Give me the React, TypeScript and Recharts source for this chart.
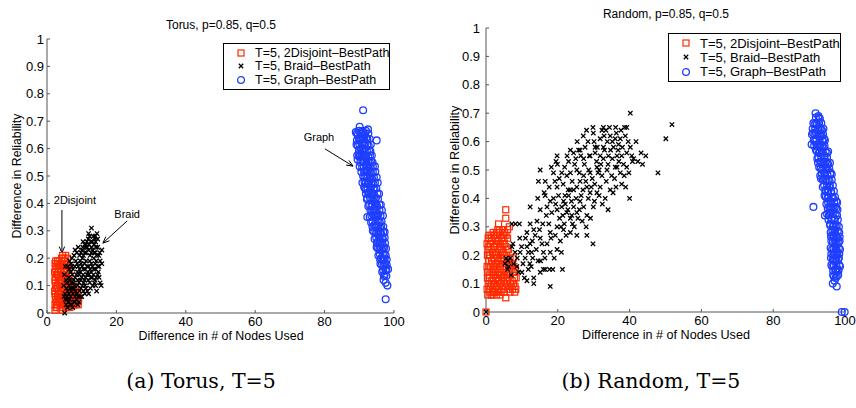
import { ScatterChart, Scatter, XAxis, YAxis, Legend, ReferenceLine } from 'recharts';

type Pt = [number, number];

const xTicks = [0, 20, 40, 60, 80, 100];
const yTicks = [0, 0.1, 0.2, 0.3, 0.4, 0.5, 0.6, 0.7, 0.8, 0.9, 1];
const seriesNames = ['T=5, 2Disjoint\u2013BestPath', 'T=5, Braid\u2013BestPath', 'T=5, Graph\u2013BestPath'];

// ---- Torus panel ----
const torusDisjoint: Pt[] = [
  [2.3, 0.01], [2.4, 0.05], [2.2, 0.08], [2.5, 0.1], [2.3, 0.12], [2.4, 0.13], [2.2, 0.15], [2.6, 0.17],
  [3.0, 0.03], [3.1, 0.06], [2.9, 0.09], [3.2, 0.11], [3.0, 0.14], [3.3, 0.16], [3.1, 0.18], [2.8, 0.02],
  [3.6, 0.04], [3.5, 0.07], [3.7, 0.1], [3.4, 0.12], [3.8, 0.15], [3.6, 0.17], [3.5, 0.19],
  [4.1, 0.03], [4.0, 0.05], [4.2, 0.08], [3.9, 0.11], [4.3, 0.13], [4.1, 0.16], [4.0, 0.18], [4.2, 0.2],
  [4.6, 0.02], [4.5, 0.06], [4.7, 0.09], [4.4, 0.12], [4.8, 0.14], [4.6, 0.17], [4.5, 0.21],
  [5.1, 0.03], [5.0, 0.05], [5.2, 0.07], [4.9, 0.1], [5.3, 0.13], [5.1, 0.15], [5.0, 0.19], [5.4, 0.21],
  [5.6, 0.04], [5.5, 0.06], [5.8, 0.08], [5.7, 0.11], [5.6, 0.14], [5.9, 0.2],
  [6.1, 0.03], [6.2, 0.05], [6.0, 0.07], [6.3, 0.09], [6.1, 0.12], [6.0, 0.17],
  [6.6, 0.02], [6.7, 0.04], [6.5, 0.06], [6.8, 0.08], [6.6, 0.1],
  [7.1, 0.03], [7.2, 0.05], [7.0, 0.07], [7.3, 0.09],
  [7.6, 0.04], [7.8, 0.06], [7.5, 0.08],
  [8.1, 0.03], [8.0, 0.05], [8.3, 0.07], [8.2, 0.09],
  [8.6, 0.04], [8.7, 0.06], [9.0, 0.03], [9.1, 0.05],
  [2.7, 0.04], [3.3, 0.08], [4.4, 0.01], [5.8, 0.02], [2.5, 0.19], [3.8, 0.02],
  [2.6, 0.02], [2.3, 0.03], [2.5, 0.06], [2.3, 0.07], [2.6, 0.09], [2.4, 0.11], [2.7, 0.14], [2.5, 0.16], [2.3, 0.18],
  [3.2, 0.04], [3.4, 0.05], [3.2, 0.07], [3.0, 0.1], [3.4, 0.13], [3.2, 0.15], [3.4, 0.17], [3.0, 0.19],
  [3.8, 0.06], [4.0, 0.09], [3.7, 0.12], [4.1, 0.14], [3.8, 0.18], [4.3, 0.19],
  [4.4, 0.04], [4.7, 0.07], [4.5, 0.1], [4.6, 0.13], [4.8, 0.16], [4.4, 0.18], [4.9, 0.2],
  [5.3, 0.04], [5.2, 0.09], [5.4, 0.11], [5.4, 0.17], [5.7, 0.16], [5.6, 0.18], [5.3, 0.02],
  [6.4, 0.04], [6.3, 0.07], [6.9, 0.05], [7.4, 0.06], [7.7, 0.07], [8.4, 0.05], [8.8, 0.08], [7.0, 0.1],
  [7.8, 0.03], [6.3, 0.11], [6.4, 0.14],
];

const torusBraid: Pt[] = [
  [5.1, 0.0], [5.5, 0.03], [6.2, 0.04], [7.0, 0.03], [7.8, 0.04], [6.5, 0.05], [8.5, 0.05], [9.2, 0.04], [5.8, 0.05],
  [5.2, 0.07], [6.0, 0.08], [6.8, 0.06], [7.5, 0.07], [8.2, 0.08], [9.0, 0.06], [9.8, 0.09], [10.5, 0.08],
  [6.4, 0.1], [7.2, 0.09], [8.8, 0.1], [11.2, 0.09], [12.0, 0.07], [14.3, 0.08], [15.6, 0.1], [5.6, 0.09], [10.0, 0.06],
  [5.5, 0.12], [6.3, 0.13], [7.0, 0.11], [7.7, 0.12], [8.5, 0.14], [9.2, 0.11], [10.0, 0.13], [10.8, 0.12],
  [11.5, 0.14], [12.3, 0.11], [13.0, 0.13], [13.8, 0.12], [14.6, 0.14], [15.3, 0.11], [6.8, 0.15], [8.0, 0.1],
  [9.6, 0.15], [12.7, 0.15], [11.0, 0.1], [14.0, 0.1],
  [6.0, 0.17], [7.0, 0.18], [7.5, 0.16], [8.3, 0.19], [9.0, 0.17], [9.8, 0.18], [10.5, 0.16], [11.3, 0.19],
  [12.0, 0.17], [12.8, 0.18], [13.5, 0.16], [14.2, 0.19], [15.0, 0.17], [15.8, 0.18], [8.8, 0.15], [11.8, 0.15],
  [14.8, 0.15], [10.2, 0.2], [6.5, 0.19],
  [7.8, 0.21], [8.6, 0.22], [9.4, 0.21], [10.1, 0.23], [10.9, 0.22], [11.6, 0.24], [12.4, 0.21], [13.1, 0.23],
  [13.9, 0.22], [14.6, 0.24], [15.8, 0.23], [9.0, 0.24], [12.0, 0.25], [7.2, 0.2], [13.5, 0.2], [14.9, 0.21],
  [10.4, 0.26], [11.2, 0.25], [11.9, 0.27], [12.6, 0.26], [13.3, 0.28], [14.0, 0.26], [14.4, 0.29], [12.8, 0.31],
  [13.6, 0.25], [10.9, 0.25],
  [5.0, 0.14], [4.8, 0.1], [5.3, 0.17], [4.9, 0.06],
  [5.9, 0.02], [6.7, 0.03], [7.4, 0.02], [8.0, 0.04], [8.9, 0.03], [5.3, 0.05],
  [5.7, 0.06], [6.3, 0.07], [7.0, 0.08], [7.8, 0.09], [8.5, 0.07], [9.4, 0.08], [10.2, 0.1], [10.9, 0.07],
  [11.6, 0.08], [12.5, 0.09], [13.2, 0.1], [6.6, 0.09], [8.1, 0.06], [9.6, 0.06],
  [5.8, 0.11], [6.6, 0.12], [7.3, 0.14], [8.1, 0.13], [8.9, 0.12], [9.7, 0.12], [10.4, 0.14], [11.1, 0.13],
  [11.9, 0.12], [12.6, 0.13], [13.4, 0.14], [14.2, 0.13], [15.0, 0.13], [7.6, 0.11], [9.3, 0.14], [10.6, 0.11],
  [12.1, 0.14], [13.7, 0.11],
  [6.4, 0.16], [7.2, 0.17], [8.0, 0.17], [8.7, 0.18], [9.4, 0.16], [10.1, 0.17], [10.8, 0.18], [11.6, 0.17],
  [12.3, 0.19], [13.1, 0.17], [13.9, 0.18], [14.6, 0.17], [9.6, 0.19], [11.0, 0.16], [12.5, 0.16], [14.0, 0.16],
  [15.3, 0.19],
  [8.1, 0.23], [9.8, 0.22], [10.5, 0.21], [11.3, 0.22], [12.0, 0.23], [12.8, 0.22], [13.6, 0.22], [14.3, 0.21],
  [10.3, 0.24], [11.0, 0.24], [12.9, 0.24], [14.1, 0.24], [15.2, 0.22],
  [11.5, 0.26], [12.3, 0.28], [13.0, 0.26], [13.8, 0.27], [14.6, 0.27], [12.0, 0.29], [13.9, 0.28],
];

const torusGraph: Pt[] = [
  [91.1, 0.74], [90.1, 0.68], [92.5, 0.67], [89.0, 0.66], [89.6, 0.65], [90.5, 0.66], [91.4, 0.65], [92.0, 0.64],
  [89.3, 0.63], [90.2, 0.63], [91.0, 0.62], [91.8, 0.62], [95.0, 0.63], [92.7, 0.61], [89.5, 0.61], [90.4, 0.6],
  [91.3, 0.6], [92.2, 0.59], [93.2, 0.59], [89.8, 0.58], [90.7, 0.58], [91.6, 0.57], [92.6, 0.57], [89.5, 0.56],
  [90.3, 0.55], [91.2, 0.55], [92.0, 0.54], [93.0, 0.55], [93.8, 0.55], [90.8, 0.53], [91.7, 0.52], [92.5, 0.52],
  [93.4, 0.51], [91.1, 0.5], [92.0, 0.5], [92.9, 0.49], [93.7, 0.49], [91.5, 0.48], [92.4, 0.47], [93.2, 0.46],
  [94.1, 0.47], [91.9, 0.45], [92.8, 0.44], [93.6, 0.44], [94.4, 0.45], [92.3, 0.42], [93.1, 0.42], [94.0, 0.41],
  [94.8, 0.42], [92.6, 0.39], [93.5, 0.39], [94.4, 0.38], [95.1, 0.39], [92.3, 0.35], [93.0, 0.35], [93.9, 0.36],
  [94.8, 0.35], [95.5, 0.36], [93.4, 0.33], [94.3, 0.32], [95.1, 0.32], [95.9, 0.33], [93.9, 0.3], [94.8, 0.29],
  [95.6, 0.3], [96.3, 0.29], [94.4, 0.27], [95.3, 0.26], [96.1, 0.26], [96.8, 0.27], [95.0, 0.24], [95.8, 0.23],
  [96.6, 0.23], [97.2, 0.24], [95.5, 0.21], [96.3, 0.2], [97.0, 0.2], [97.6, 0.21], [96.1, 0.18], [96.9, 0.17],
  [97.5, 0.18], [96.6, 0.15], [97.3, 0.14], [97.8, 0.16], [98.3, 0.16], [97.0, 0.12], [97.6, 0.11], [98.1, 0.1],
  [97.6, 0.05],
  [90.0, 0.64], [90.9, 0.64], [91.6, 0.59], [90.0, 0.57], [92.1, 0.56], [91.4, 0.46], [93.3, 0.53], [92.6, 0.48],
  [93.8, 0.43], [94.6, 0.4], [93.7, 0.37], [95.3, 0.34], [96.0, 0.31], [96.6, 0.25], [95.9, 0.27],
  [89.9, 0.665], [91.0, 0.665], [91.9, 0.665], [89.3, 0.655], [90.8, 0.655], [91.7, 0.655], [92.6, 0.655],
  [89.9, 0.635], [90.6, 0.635], [91.4, 0.635], [92.3, 0.635], [93.0, 0.635],
  [89.2, 0.615], [90.0, 0.615], [90.8, 0.615], [91.5, 0.615], [92.3, 0.615], [93.3, 0.615],
  [89.9, 0.595], [90.9, 0.595], [92.8, 0.595],
  [89.4, 0.575], [90.2, 0.575], [91.1, 0.575], [92.0, 0.575], [93.1, 0.575], [93.6, 0.575],
  [90.9, 0.555], [91.7, 0.555], [92.5, 0.555], [93.4, 0.555],
  [90.1, 0.535], [91.3, 0.535], [92.2, 0.535], [93.0, 0.535], [93.9, 0.535], [94.5, 0.535],
  [90.6, 0.515], [91.4, 0.515], [92.1, 0.515], [93.0, 0.515], [93.9, 0.515], [94.6, 0.515],
  [91.5, 0.495], [92.4, 0.495], [93.3, 0.495], [94.2, 0.495], [95.0, 0.495],
  [90.9, 0.475], [91.9, 0.475], [92.8, 0.475], [93.6, 0.475], [94.5, 0.475], [95.3, 0.475],
  [91.6, 0.455], [92.4, 0.455], [93.3, 0.455], [94.1, 0.455], [94.9, 0.455],
  [91.9, 0.435], [92.6, 0.435], [93.4, 0.435], [94.2, 0.435], [95.2, 0.435], [95.7, 0.435],
  [92.2, 0.415], [93.5, 0.415], [94.4, 0.415], [95.4, 0.415],
  [92.9, 0.395], [93.8, 0.395], [94.8, 0.395], [95.8, 0.395], [96.2, 0.395],
  [93.2, 0.375], [94.1, 0.375], [95.0, 0.375], [95.8, 0.375], [96.5, 0.375],
  [93.5, 0.355], [94.4, 0.355], [95.2, 0.355], [96.1, 0.355], [96.8, 0.355],
  [93.8, 0.335], [94.7, 0.335], [95.6, 0.335], [96.4, 0.335],
  [93.8, 0.315], [94.7, 0.315], [95.5, 0.315], [96.3, 0.315], [96.9, 0.315],
  [94.3, 0.295], [95.2, 0.295], [96.0, 0.295], [96.9, 0.295], [97.3, 0.295],
  [94.9, 0.275], [95.7, 0.275], [96.5, 0.275], [97.3, 0.275],
  [95.1, 0.255], [95.9, 0.255], [96.6, 0.255], [97.4, 0.255],
  [95.4, 0.235], [96.2, 0.235], [97.0, 0.235], [97.7, 0.235],
  [95.9, 0.215], [96.8, 0.215], [97.3, 0.215],
  [96.0, 0.195], [96.7, 0.195], [97.3, 0.195], [97.9, 0.195],
  [96.4, 0.175], [97.2, 0.175], [97.9, 0.175],
  [96.9, 0.155], [97.6, 0.155], [97.1, 0.135], [97.8, 0.135],
];

// ---- Random panel ----
const randomDisjoint: Pt[] = [
  [0, 0],
  [0.5, 0.06], [0.6, 0.1], [0.4, 0.14], [0.7, 0.18], [0.5, 0.22], [0.6, 0.26], [0.8, 0.27],
  [1.1, 0.07], [1.2, 0.09], [1.0, 0.12], [1.3, 0.16], [1.1, 0.2], [1.2, 0.24], [1.4, 0.27],
  [1.7, 0.06], [1.8, 0.08], [1.6, 0.11], [1.9, 0.14], [1.7, 0.17], [1.8, 0.21], [1.6, 0.25], [2.0, 0.28],
  [2.3, 0.07], [2.4, 0.1], [2.2, 0.13], [2.5, 0.15], [2.3, 0.19], [2.4, 0.23], [2.6, 0.26],
  [2.9, 0.06], [3.0, 0.09], [2.8, 0.12], [3.1, 0.17], [2.9, 0.2], [3.0, 0.24], [3.2, 0.27], [3.5, 0.31], [3.3, 0.29],
  [3.6, 0.08], [3.5, 0.11], [3.7, 0.14], [3.4, 0.18], [3.8, 0.22], [3.6, 0.25], [3.9, 0.28],
  [4.2, 0.07], [4.1, 0.1], [4.3, 0.13], [4.0, 0.16], [4.4, 0.19], [4.2, 0.23], [4.5, 0.26], [4.6, 0.29],
  [4.8, 0.08], [4.9, 0.11], [4.7, 0.15], [5.0, 0.18], [4.8, 0.21], [5.1, 0.24], [5.2, 0.28],
  [5.5, 0.05], [5.4, 0.09], [5.6, 0.12], [5.3, 0.16], [5.7, 0.2], [5.5, 0.23], [5.5, 0.33], [5.5, 0.36],
  [6.1, 0.08], [6.0, 0.11], [6.2, 0.14], [5.9, 0.18], [6.3, 0.22], [6.5, 0.3], [6.0, 0.26],
  [6.7, 0.07], [6.8, 0.1], [6.6, 0.13], [6.9, 0.16], [6.7, 0.19],
  [7.4, 0.08], [7.3, 0.11], [7.5, 0.14], [7.2, 0.17], [7.6, 0.19],
  [8.0, 0.07], [8.1, 0.09], [7.9, 0.12], [8.2, 0.15],
  [0.3, 0.08], [0.4, 0.12], [0.3, 0.16], [0.4, 0.2], [0.3, 0.24], [0.8, 0.08], [0.9, 0.13], [0.8, 0.16],
  [0.9, 0.2], [0.8, 0.23], [1.4, 0.06], [1.5, 0.1], [1.4, 0.14], [1.5, 0.18], [1.4, 0.22], [1.5, 0.26],
  [2.0, 0.07], [2.1, 0.1], [2.0, 0.12], [2.1, 0.16], [2.0, 0.19], [2.1, 0.23], [2.1, 0.27],
  [2.6, 0.08], [2.7, 0.11], [2.6, 0.14], [2.7, 0.17], [2.6, 0.21], [2.7, 0.25],
  [3.3, 0.07], [3.3, 0.1], [3.2, 0.13], [3.3, 0.15], [3.2, 0.19], [3.3, 0.22], [3.4, 0.25],
  [3.9, 0.06], [3.9, 0.1], [3.9, 0.13], [3.9, 0.17], [4.0, 0.2], [4.0, 0.24], [4.1, 0.27],
  [4.5, 0.09], [4.5, 0.12], [4.6, 0.17], [4.5, 0.21], [4.7, 0.24],
  [5.1, 0.07], [5.1, 0.13], [5.2, 0.2], [5.0, 0.26], [5.8, 0.1], [5.8, 0.14], [5.9, 0.22], [6.4, 0.09],
  [6.4, 0.17], [7.0, 0.09], [7.0, 0.15], [7.7, 0.1], [7.8, 0.16], [8.3, 0.08], [8.4, 0.12], [4.8, 0.27],
  [5.6, 0.27], [3.7, 0.29], [2.9, 0.28], [6.0, 0.29],
];

const randomBraid: Pt[] = [
  [0, 0],
  [40.2, 0.7], [51.8, 0.66], [50.1, 0.61], [47.9, 0.49], [40.0, 0.4], [34.0, 0.36], [29.8, 0.24], [17.9, 0.09],
  [21.3, 0.15], [13.3, 0.1], [11.4, 0.11], [44.5, 0.55], [43.2, 0.56], [41.8, 0.6], [40.6, 0.55], [40.8, 0.53],
  [39.2, 0.65], [38.6, 0.65], [37.4, 0.61], [32.7, 0.65], [34.4, 0.65], [29.8, 0.65], [27.1, 0.62], [25.8, 0.57],
  [23.5, 0.57], [19.8, 0.55], [19.5, 0.53], [15.1, 0.5], [14.6, 0.46], [16.5, 0.46], [14.4, 0.4], [12.3, 0.37],
  [9.3, 0.31], [8.2, 0.31], [9.4, 0.26], [7.2, 0.23], [11.4, 0.23], [12.7, 0.21], [8.6, 0.16], [10.7, 0.12],
  [13.3, 0.12], [15.1, 0.14], [16.5, 0.15], [17.7, 0.15], [18.6, 0.15], [16.4, 0.19], [15.2, 0.18], [12.6, 0.16],
  [12.2, 0.17], [10.9, 0.19], [18.8, 0.4], [16.5, 0.41], [17.9, 0.39], [19.8, 0.36], [21.1, 0.37], [21.4, 0.34],
  [22.5, 0.35], [23.5, 0.33], [21.6, 0.29], [23.5, 0.28], [25.3, 0.27], [28.1, 0.27], [20.7, 0.25], [19.8, 0.22],
  [17.9, 0.21], [16.0, 0.21], [17.0, 0.24], [15.1, 0.26], [13.3, 0.29], [12.3, 0.31], [14.2, 0.32], [17.5, 0.31],
  [19.8, 0.3], [17.9, 0.28], [24.4, 0.43], [26.2, 0.39], [27.2, 0.37], [28.1, 0.34], [25.3, 0.35], [24.4, 0.37],
  [23.0, 0.41], [21.6, 0.39], [19.8, 0.44], [18.8, 0.49], [21.1, 0.49], [22.5, 0.48], [23.5, 0.49], [25.3, 0.5],
  [26.2, 0.46], [28.1, 0.44], [29.0, 0.42], [29.9, 0.37], [30.9, 0.42], [31.8, 0.44], [33.2, 0.4], [32.3, 0.48],
  [33.7, 0.5], [34.6, 0.43], [36.0, 0.51], [37.4, 0.49], [37.8, 0.45], [27.2, 0.54], [29.0, 0.55], [30.4, 0.56],
  [31.8, 0.55], [32.7, 0.54], [34.1, 0.55], [35.5, 0.58], [36.5, 0.55], [37.8, 0.55], [39.2, 0.56], [36.9, 0.59],
  [36.0, 0.61], [34.6, 0.62], [31.8, 0.61], [30.4, 0.58], [27.6, 0.58], [26.2, 0.57], [24.4, 0.56], [30.9, 0.51],
  [29.0, 0.49], [27.2, 0.48], [25.3, 0.44], [23.5, 0.43], [35.0, 0.48], [36.5, 0.51], [39.2, 0.51], [40.2, 0.58],
  [41.1, 0.54], [38.3, 0.52], [32.3, 0.64], [32.7, 0.58], [29.9, 0.63], [17.0, 0.37], [15.1, 0.36], [11.4, 0.28],
  [9.5, 0.21], [7.7, 0.17], [9.1, 0.14], [16.0, 0.15], [12.3, 0.24], [6.8, 0.19], [6.3, 0.16], [6.1, 0.18],
  [7.2, 0.31], [5.6, 0.19], [5.3, 0.17], [7.5, 0.24], [8.1, 0.21], [6.0, 0.15], [7.0, 0.13],
  [20.5, 0.33], [21.8, 0.31], [22.8, 0.36], [23.9, 0.34], [22.1, 0.38], [20.2, 0.41], [19.4, 0.38], [18.3, 0.35],
  [16.8, 0.34], [15.8, 0.31], [14.9, 0.29], [13.7, 0.27], [12.9, 0.25], [11.8, 0.21], [10.3, 0.17], [9.9, 0.23],
  [11.0, 0.26], [14.0, 0.22], [15.6, 0.24], [18.1, 0.26], [19.3, 0.27], [20.9, 0.3], [22.3, 0.27], [24.1, 0.31],
  [25.6, 0.33], [26.8, 0.32], [27.9, 0.3], [26.5, 0.41], [25.1, 0.4], [23.8, 0.39], [22.9, 0.43], [21.5, 0.45],
  [20.4, 0.47], [19.2, 0.46], [17.6, 0.44], [16.2, 0.42], [18.2, 0.51], [19.9, 0.52], [21.9, 0.51], [23.0, 0.53],
  [24.7, 0.52], [26.0, 0.49], [27.8, 0.46], [28.6, 0.5], [29.6, 0.47], [30.3, 0.45], [31.2, 0.49], [32.0, 0.52],
  [33.0, 0.57], [34.0, 0.52], [35.2, 0.54], [33.5, 0.46], [35.8, 0.47], [36.2, 0.44], [38.5, 0.48], [37.0, 0.53],
  [38.0, 0.58], [39.6, 0.6], [38.8, 0.62], [36.3, 0.63], [35.2, 0.6], [33.8, 0.6], [32.9, 0.62], [31.0, 0.58],
  [30.1, 0.6], [28.4, 0.6], [28.8, 0.55], [27.4, 0.52], [26.4, 0.55], [25.0, 0.54], [24.0, 0.46], [22.0, 0.41],
  [30.8, 0.53], [34.7, 0.57], [36.8, 0.57], [31.5, 0.5], [29.3, 0.44], [27.0, 0.43], [28.5, 0.4], [30.2, 0.39],
  [31.5, 0.41], [26.0, 0.36], [24.6, 0.3], [21.0, 0.21], [19.0, 0.19], [14.5, 0.18], [13.0, 0.19], [11.8, 0.15],
  [10.0, 0.14], [8.7, 0.19], [36.1, 0.65], [37.6, 0.64], [33.4, 0.64], [28.0, 0.64], [25.4, 0.6], [22.6, 0.55],
  [42.3, 0.53], [43.6, 0.52], [39.8, 0.49], [38.9, 0.44], [35.4, 0.42], [32.4, 0.38], [29.1, 0.33],
];

const randomGraph: Pt[] = [
  [91.8, 0.7], [92.6, 0.69], [93.0, 0.68], [91.5, 0.66], [92.2, 0.66], [93.0, 0.65], [93.6, 0.64], [91.1, 0.63],
  [91.9, 0.63], [92.7, 0.62], [93.5, 0.62], [94.2, 0.61], [90.7, 0.59], [91.6, 0.6], [92.4, 0.59], [93.2, 0.59],
  [94.0, 0.58], [91.9, 0.57], [92.7, 0.56], [93.5, 0.56], [94.3, 0.55], [95.0, 0.56], [92.3, 0.54], [93.1, 0.53],
  [93.9, 0.52], [94.7, 0.53], [95.3, 0.52], [92.8, 0.51], [93.6, 0.5], [94.4, 0.49], [95.2, 0.5], [96.0, 0.49],
  [93.3, 0.47], [94.1, 0.47], [94.9, 0.46], [95.7, 0.46], [93.8, 0.44], [94.6, 0.43], [95.4, 0.43], [96.2, 0.42],
  [94.3, 0.41], [95.1, 0.4], [95.9, 0.39], [96.7, 0.4], [97.6, 0.39], [94.8, 0.38], [95.6, 0.37], [96.4, 0.36],
  [97.2, 0.37], [91.2, 0.37], [94.4, 0.34], [95.5, 0.34], [96.2, 0.33], [97.0, 0.33], [97.8, 0.34], [95.8, 0.31],
  [96.6, 0.3], [97.4, 0.3], [98.3, 0.3], [96.0, 0.28], [96.8, 0.27], [97.5, 0.27], [98.4, 0.28], [96.2, 0.25],
  [97.0, 0.24], [97.7, 0.24], [98.5, 0.25], [96.4, 0.22], [97.2, 0.21], [97.9, 0.21], [98.6, 0.22], [96.1, 0.19],
  [96.9, 0.18], [97.6, 0.18], [98.3, 0.19], [96.5, 0.16], [97.3, 0.15], [98.0, 0.15], [98.6, 0.16], [96.7, 0.13],
  [97.4, 0.12], [98.1, 0.13], [96.6, 0.1], [97.7, 0.09], [97.1, 0.11], [99.1, 0.0], [99.9, 0.0],
  [92.0, 0.61], [93.9, 0.6], [92.9, 0.58], [94.6, 0.51], [93.1, 0.48], [95.6, 0.44], [96.1, 0.35], [97.9, 0.36],
  [97.1, 0.29], [96.4, 0.27], [98.0, 0.26], [97.3, 0.23], [96.7, 0.2], [97.8, 0.2],
  [91.9, 0.685], [92.7, 0.685], [91.2, 0.665], [92.0, 0.665], [92.8, 0.665], [93.4, 0.665],
  [91.0, 0.645], [91.7, 0.645], [92.5, 0.645], [93.3, 0.645], [94.0, 0.645],
  [90.8, 0.625], [91.5, 0.625], [92.3, 0.625], [93.1, 0.625], [93.9, 0.625],
  [91.3, 0.605], [92.9, 0.605], [93.7, 0.605], [94.4, 0.605], [91.4, 0.585], [92.1, 0.585], [93.6, 0.585], [94.3, 0.585],
  [92.2, 0.565], [93.0, 0.565], [93.8, 0.565], [94.6, 0.565], [95.3, 0.565],
  [92.6, 0.545], [93.4, 0.545], [94.2, 0.545], [95.0, 0.545],
  [92.5, 0.525], [93.3, 0.525], [94.3, 0.525], [95.1, 0.525], [95.8, 0.525],
  [93.2, 0.505], [94.0, 0.505], [94.8, 0.505], [95.6, 0.505],
  [93.5, 0.485], [94.3, 0.485], [95.1, 0.485], [95.9, 0.485], [96.3, 0.485],
  [93.8, 0.465], [94.6, 0.465], [95.4, 0.465], [96.3, 0.465],
  [94.2, 0.445], [95.0, 0.445], [95.8, 0.445], [96.6, 0.445],
  [94.5, 0.425], [95.3, 0.425], [96.1, 0.425], [96.9, 0.425],
  [94.6, 0.405], [95.4, 0.405], [96.3, 0.405], [97.2, 0.405],
  [95.3, 0.385], [96.1, 0.385], [97.0, 0.385], [97.8, 0.385],
  [95.2, 0.365], [96.0, 0.365], [96.8, 0.365], [97.6, 0.365],
  [95.0, 0.345], [95.8, 0.345], [96.6, 0.345], [97.4, 0.345],
  [95.4, 0.325], [96.3, 0.325], [97.2, 0.325], [98.0, 0.325],
  [95.9, 0.305], [96.9, 0.305], [97.7, 0.305], [96.5, 0.285], [97.2, 0.285], [98.0, 0.285],
  [96.1, 0.265], [96.9, 0.265], [97.7, 0.265], [98.5, 0.265], [96.6, 0.245], [97.4, 0.245], [98.2, 0.245],
  [96.0, 0.225], [96.8, 0.225], [97.6, 0.225], [98.3, 0.225], [96.2, 0.205], [97.0, 0.205], [97.7, 0.205], [98.4, 0.205],
  [96.6, 0.185], [97.3, 0.185], [98.1, 0.185], [96.2, 0.165], [96.9, 0.165], [97.6, 0.165], [98.4, 0.165],
  [96.7, 0.145], [97.5, 0.145], [98.2, 0.145], [96.9, 0.125], [97.7, 0.125],
];

// annotation arrows on the torus panel: text, start (x,y), end (x,y)
const torusNotes = [
  { text: 'Graph', x1: 80.1, y1: 0.599, x2: 88.2, y2: 0.536, dx: -6, dy: -8 },
  { text: 'Braid', x1: 23.1, y1: 0.336, x2: 16.1, y2: 0.255, dx: 0, dy: -3 },
  { text: '2Disjoint', x1: 4.3, y1: 0.376, x2: 4.3, y2: 0.219, dx: 13, dy: -6 },
];

const RED = '#ff2a00';
const BLUE = '#1f3fff';
const SANS = '"Liberation Sans", Arial, Helvetica, sans-serif';

const toRows = (pts: Pt[]) => pts.map(([x, y]) => ({ x, y }));

const SquareMark = (p: any) => (
  <rect x={p.cx - 3} y={p.cy - 3} width={6} height={6} fill="none" stroke={RED} strokeWidth={1.2} />
);
const CrossMark = (p: any) => (
  <path
    d={`M${p.cx - 2.2},${p.cy - 2.2}L${p.cx + 2.2},${p.cy + 2.2}M${p.cx - 2.2},${p.cy + 2.2}L${p.cx + 2.2},${p.cy - 2.2}`}
    stroke="#000"
    strokeWidth={1.3}
  />
);
const CircleMark = (p: any) => <circle cx={p.cx} cy={p.cy} r={3.4} fill="none" stroke={BLUE} strokeWidth={1.3} />;

const legendMarks = [SquareMark, CrossMark, CircleMark];

function LegendBox({ fontSize, width, height }: { fontSize: number; width: number; height: number }) {
  return (
    <div
      style={{
        width,
        height,
        boxSizing: 'border-box',
        border: '1.5px solid #000',
        background: '#fff',
        fontFamily: SANS,
        fontSize,
        padding: '2px 0 0 0',
      }}
    >
      {seriesNames.map((name, i) => {
        const Mark = legendMarks[i];
        return (
          <div key={name} style={{ display: 'flex', alignItems: 'center', height: (height - 6) / 3, whiteSpace: 'nowrap' }}>
            <svg width={31} height={12} style={{ flex: 'none' }}>
              <Mark cx={17} cy={6} />
            </svg>
            <span>{name}</span>
          </div>
        );
      })}
    </div>
  );
}

function Arrow(props: any) {
  const { x1, y1, x2, y2, text, dx, dy } = props;
  const ang = Math.atan2(y2 - y1, x2 - x1);
  const h = 7;
  const a1 = ang + Math.PI - 0.4;
  const a2 = ang + Math.PI + 0.4;
  return (
    <g>
      <line x1={x1} y1={y1} x2={x2} y2={y2} stroke="#000" strokeWidth={1} />
      <path
        d={`M${x2 + h * Math.cos(a1)},${y2 + h * Math.sin(a1)}L${x2},${y2}L${x2 + h * Math.cos(a2)},${y2 + h * Math.sin(a2)}`}
        stroke="#000"
        fill="none"
        strokeWidth={1}
      />
      <text x={x1 + dx} y={y1 + dy} textAnchor="middle" fontFamily={SANS} fontSize={11} fill="#000">
        {text}
      </text>
    </g>
  );
}

interface PanelProps {
  left: number;
  width: number;
  height: number;
  margin: { top: number; right: number; bottom: number; left: number };
  yAxisWidth: number;
  yTickMargin: number;
  disjoint: Pt[];
  braid: Pt[];
  graph: Pt[];
  legend: { left: number; top: number; width: number; height: number; fontSize: number };
  notes?: typeof torusNotes;
}

function Panel(props: PanelProps) {
  const { left, width, height, margin, yAxisWidth, yTickMargin, legend, notes = [] } = props;
  const tickStyle = { fontSize: 13, fill: '#000', fontFamily: SANS };
  return (
    <div style={{ position: 'absolute', left, top: 0 }}>
      <ScatterChart width={width} height={height} margin={margin}>
        <XAxis
          type="number"
          dataKey="x"
          domain={[0, 100]}
          ticks={xTicks}
          interval={0}
          height={30}
          tickSize={-3}
          tickMargin={7}
          tick={tickStyle}
          stroke="#555"
          axisLine={{ stroke: '#555' }}
          tickLine={{ stroke: '#555' }}
        />
        <YAxis
          type="number"
          dataKey="y"
          domain={[0, 1]}
          ticks={yTicks}
          interval={0}
          width={yAxisWidth}
          tickSize={-3}
          tickMargin={yTickMargin}
          tick={tickStyle}
          stroke="#555"
          axisLine={{ stroke: '#555' }}
          tickLine={{ stroke: '#555' }}
        />
        <Scatter name={seriesNames[0]} data={toRows(props.disjoint)} shape={SquareMark} isAnimationActive={false} />
        <Scatter name={seriesNames[1]} data={toRows(props.braid)} shape={CrossMark} isAnimationActive={false} />
        <Scatter name={seriesNames[2]} data={toRows(props.graph)} shape={CircleMark} isAnimationActive={false} />
        {notes.map((n) => (
          <ReferenceLine
            key={n.text}
            segment={[
              { x: n.x1, y: n.y1 },
              { x: n.x2, y: n.y2 },
            ]}
            shape={(p: any) => <Arrow {...p} text={n.text} dx={n.dx} dy={n.dy} />}
          />
        ))}
        <Legend
          layout="vertical"
          align="center"
          verticalAlign="middle"
          wrapperStyle={{ position: 'absolute', left: legend.left, top: legend.top, width: legend.width, height: legend.height }}
          content={() => <LegendBox fontSize={legend.fontSize} width={legend.width} height={legend.height} />}
        />
      </ScatterChart>
    </div>
  );
}

function Txt({ x, y, size, children, rotate, serif }: any) {
  return (
    <div
      style={{
        position: 'absolute',
        left: x,
        top: y,
        transform: `translate(-50%, -50%)${rotate ? ' rotate(-90deg)' : ''}`,
        whiteSpace: 'nowrap',
        fontFamily: serif ? '"DejaVu Serif", "Liberation Serif", serif' : SANS,
        fontSize: size,
        color: '#000',
        lineHeight: 1,
      }}
    >
      {children}
    </div>
  );
}

export default function App() {
  return (
    <div style={{ position: 'absolute', left: 0, top: 0, width: 856, height: 408, background: '#fff', overflow: 'hidden' }}>
      <Panel
        left={0}
        width={420}
        height={350}
        margin={{ top: 39, right: 26, bottom: 7, left: 7 }}
        yAxisWidth={40}
        yTickMargin={6}
        disjoint={torusDisjoint}
        braid={torusBraid}
        graph={torusGraph}
        legend={{ left: 223, top: 43, width: 167, height: 47, fontSize: 12.5 }}
        notes={torusNotes}
      />
      <Panel
        left={430}
        width={426}
        height={350}
        margin={{ top: 28, right: 11, bottom: 8, left: 6 }}
        yAxisWidth={50}
        yTickMargin={9}
        disjoint={randomDisjoint}
        braid={randomBraid}
        graph={randomGraph}
        legend={{ left: 238, top: 33, width: 173, height: 49, fontSize: 13 }}
      />
      <Txt x={221} y={25} size={12}>Torus, p=0.85, q=0.5</Txt>
      <Txt x={666} y={14} size={12}>Random, p=0.85, q=0.5</Txt>
      <Txt x={221} y={336} size={12.4}>Difference in # of Nodes Used</Txt>
      <Txt x={666} y={335} size={12.6}>Difference in # of Nodes Used</Txt>
      <Txt x={17} y={176} size={12.3} rotate>Difference in Reliability</Txt>
      <Txt x={455} y={170} size={12.7} rotate>Difference in Reliability</Txt>
      <Txt x={201} y={381} size={20.5} serif>(a) Torus, T=5</Txt>
      <Txt x={651} y={381} size={20.5} serif>(b) Random, T=5</Txt>
    </div>
  );
}
